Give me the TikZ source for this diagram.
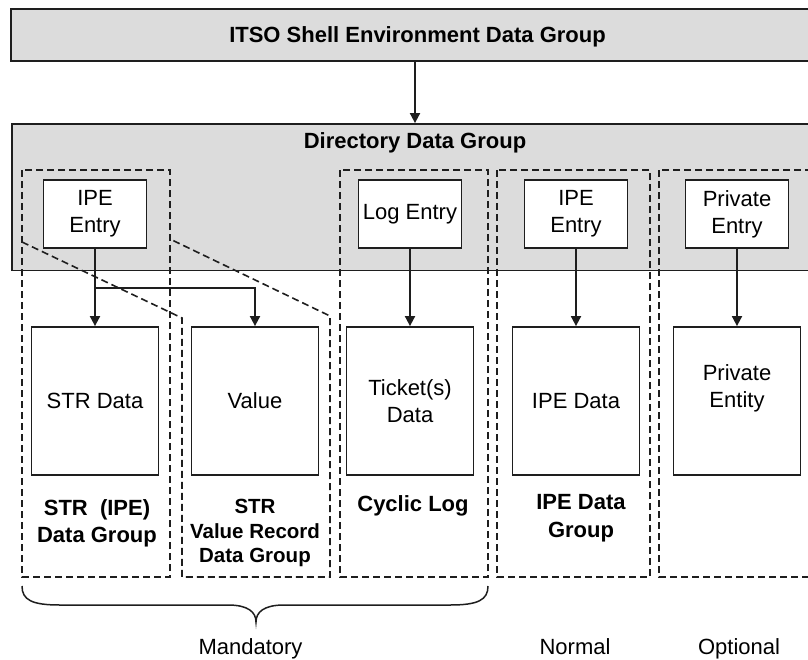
\documentclass[tikz,border=0pt]{standalone}
\usepackage{fontspec}
\setmainfont{Liberation Sans}
\usetikzlibrary{arrows.meta}
\definecolor{dirgray}{RGB}{220,220,220}
\definecolor{linec}{RGB}{30,30,30}
\begin{document}
\begin{tikzpicture}[x=1pt,y=-1pt,
  every node/.style={font=\fontsize{22}{27}\selectfont, inner sep=0pt, text=black},
  solidbox/.style={draw=linec, line width=1.8pt, fill=white, rectangle},
  entrybox/.style={solidbox, minimum width=103pt, minimum height=68pt, align=center},
  databox/.style={solidbox, minimum width=127pt, minimum height=148pt, align=center},
  graybox/.style={draw=linec, line width=1.8pt, fill=dirgray, rectangle},
  grp/.style={draw=linec, line width=1.6pt, dash pattern=on 7pt off 4pt},
  arr/.style={draw=linec, line width=1.8pt, -{Triangle[length=10pt,width=10pt]}},
  lbl/.style={font=\fontsize{22}{27}\selectfont\bfseries, align=center},
  plain/.style={align=center},
]
\useasboundingbox (0,0) rectangle (808,659);
\clip (0,0) rectangle (808,659);

% top boxes
\node[graybox, minimum width=808pt, minimum height=52pt] (top) at (415,35) {};
\node[lbl] (toptitle) at (417.5,36.6) {ITSO Shell Environment Data Group};
\node[graybox, minimum width=806pt, minimum height=146.5pt] (dir) at (415,197.25) {};
\node[lbl] (dirtitle) at (415,143) {Directory Data Group};
\draw[arr] (top.south) -- (dir.north);

% dashed groups
\draw[grp] (22,170) rectangle (170,577);
\draw[grp] (22,242) -- (182,318) -- (182,577) -- (330,577) -- (330,316) -- (172,240);
\draw[grp] (340,170) rectangle (488,577);
\draw[grp] (497,170) rectangle (650,577);
\draw[grp] (659,170) rectangle (840,577);

% entries
\node[entrybox] (ipe1) at (95,214) {IPE\\Entry};
\node[entrybox] (log) at (410,214) {Log Entry};
\node[entrybox] (ipe2) at (576,214) {IPE\\Entry};
\node[entrybox] (pent) at (737,214) {Private\\Entry};

% data boxes
\node[databox] (str) at (95,401) {STR Data};
\node[databox] (val) at (255,401) {Value};
\node[databox] (tick) at (410,401) {Ticket(s)\\Data};
\node[databox] (ipedata) at (576,401) {IPE Data};
\node[databox] (priv) at (737,401) {};
\node[plain] (privtxt) at (737,388) {Private\\Entity};

% arrows
\coordinate (br) at (95,288);
\draw[arr] (ipe1.south) -- (str.north);
\draw[arr] (br) -| (val.north);
\draw[arr] (log.south) -- (tick.north);
\draw[arr] (ipe2.south) -- (ipedata.north);
\draw[arr] (pent.south) -- (priv.north);

% group labels
\node[lbl] (l1) at (97,523) {STR~~(IPE)\\Data Group};
\node[lbl, font=\fontsize{20.5}{24.5}\selectfont\bfseries] (l2) at (255,533) {STR\\Value Record\\Data Group};
\node[lbl] (l3) at (413,506) {Cyclic Log};
\node[lbl, font=\fontsize{22}{28}\selectfont\bfseries] (l4) at (581,518) {IPE Data\\Group};

% brace
\draw[linec, line width=1.5pt] (22,586) .. controls (22,600) and (32,605) .. (60,605) -- (228,605)
  .. controls (248,605) and (256,612) .. (256,622)
  .. controls (256,612) and (264,605) .. (284,605) -- (450,605)
  .. controls (478,605) and (488,600) .. (488,586);

% bottom labels
\node (mand) at (250.5,649) {Mandatory};
\node (norm) at (575,647) {Normal};
\node (opt) at (739,649) {Optional};
\end{tikzpicture}
\end{document}
